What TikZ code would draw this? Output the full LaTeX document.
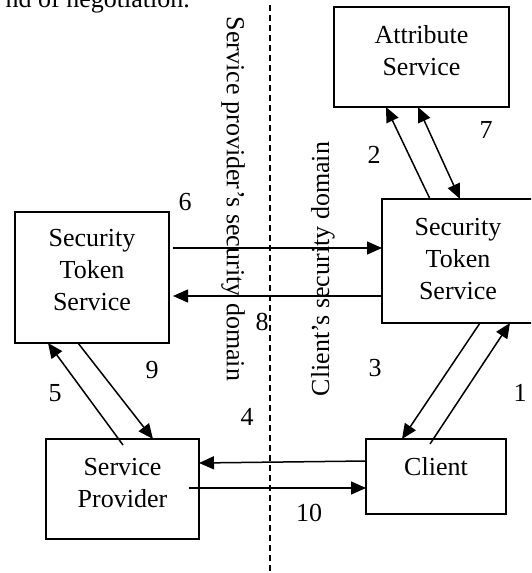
\documentclass[tikz,border=0pt]{standalone}
\usepackage{fontspec}
\setmainfont{Liberation Serif}
\usetikzlibrary{arrows.meta,calc}
\begin{document}
\begin{tikzpicture}[x=1pt,y=-1pt,
  box/.style={draw,line width=1.6pt,inner sep=0pt,outer sep=0pt},
  txt/.style={font=\fontsize{26}{32}\selectfont,align=center,inner sep=0pt},
  tip/.tip={Triangle[length=15pt,width=13pt]},
  conn/.style={line width=1.5pt,-tip},
  both/.style={line width=1.5pt,tip-tip}]
\useasboundingbox (0,0) rectangle (531,573);
\clip (0,0) rectangle (531,573);
% stray clipped caption
\node[txt,anchor=base east] (cap) at (190,7) {nd of negotiation.};
% boundary
\coordinate (dtop) at (270,5);
\coordinate (dbot) at (270,575);
\draw[line width=1.5pt,dash pattern=on 6pt off 4pt] (dtop) -- (dbot);
% boxes
\node[box,minimum width=175pt,minimum height=100pt] (attr) at (421.5,57) {};
\node[box,minimum width=156pt,minimum height=124pt] (stsR) at (460,261) {};
\node[box,minimum width=154pt,minimum height=131pt] (stsL) at (92,277.5) {};
\node[box,minimum width=153pt,minimum height=100pt] (sp) at (122.5,489) {};
\node[box,minimum width=140pt,minimum height=75pt] (client) at (436,476.5) {};
% box texts
\node[txt] (attrT) at (421.5,51) {Attribute\\Service};
\node[txt] (stsRT) at (458,259) {Security\\Token\\Service};
\node[txt] (stsLT) at (92,270) {Security\\Token\\Service};
\node[txt] (spT) at (122.5,483) {Service\\Provider};
\node[txt] (clientT) at (436,467) {Client};
% domain labels
\node[txt,rotate=-90] (spdom) at (233,199) {Service provider’s security domain};
\node[txt,rotate=90] (cldom) at (323,269) {Client’s security domain};
% connectors
\draw[conn] ([xshift=48pt]stsR.north west) -- ([xshift=52pt]attr.south west);
\draw[both] ([xshift=84pt]attr.south west) -- ([xshift=78pt]stsR.north west);
\draw[conn] ([xshift=4pt,yshift=-36pt]stsL.north east) -- ([yshift=-49pt]stsR.north west);
\draw[conn] ([yshift=-97pt]stsR.north west) -- ([xshift=4pt,yshift=-84pt]stsL.north east);
\draw[conn] ([xshift=98pt]stsR.south west) -- ([xshift=36pt]client.north west);
\draw[conn] ([xshift=64pt,yshift=-5pt]client.north west) -- ([xshift=128pt]stsR.south west);
\draw[conn] ([xshift=77pt,yshift=-6pt]sp.north west) -- ([xshift=33pt]stsL.south west);
\draw[conn] ([xshift=63pt]stsL.south west) -- ([xshift=107pt]sp.north west);
\draw[conn] ([yshift=-22pt]client.north west) -- ([yshift=-24pt]sp.north east);
\draw[conn] ([xshift=-10pt,yshift=-49pt]sp.north east) -- ([yshift=-49pt]client.north west);
% step numbers
\node[txt] (n2) at (374,155) {2};
\node[txt] (n7) at (486,130) {7};
\node[txt] (n6) at (185,202) {6};
\node[txt] (n8) at (262,322) {8};
\node[txt] (n9) at (152,370) {9};
\node[txt] (n5) at (55,393) {5};
\node[txt] (n4) at (247,417) {4};
\node[txt] (n3) at (375,368) {3};
\node[txt] (n1) at (520,393) {1};
\node[txt] (n10) at (309,513) {10};
\end{tikzpicture}
\end{document}
